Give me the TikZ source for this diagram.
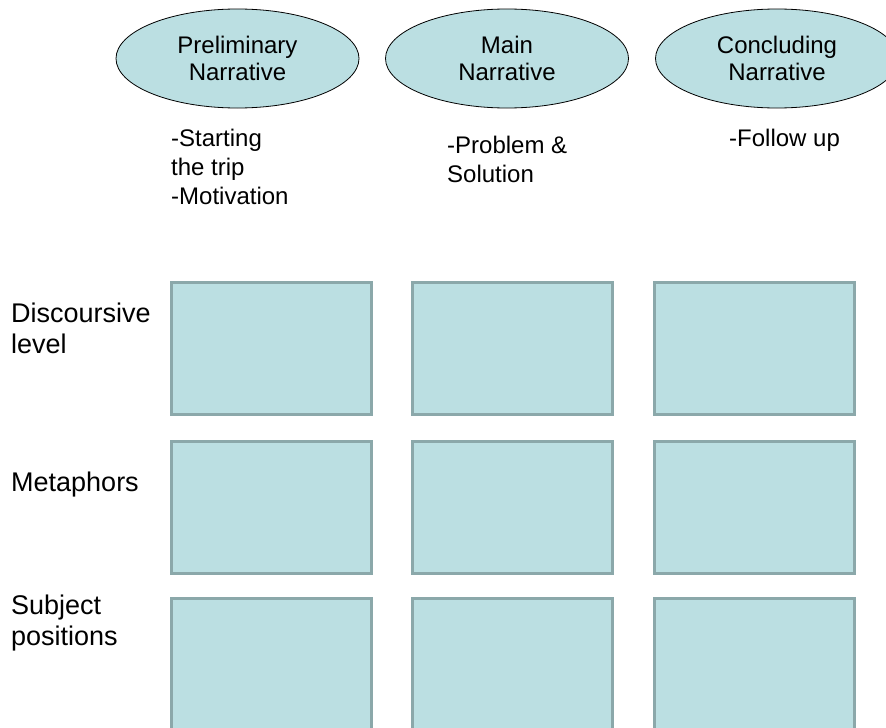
\documentclass[tikz,border=0pt]{standalone}
\usepackage{fontspec}
\setmainfont{Liberation Sans}
\usetikzlibrary{shapes.geometric}
\definecolor{boxfill}{RGB}{187,223,226}
\definecolor{boxline}{RGB}{139,168,170}
\tikzstyle{phase}=[ellipse, draw=black, line width=0.8pt, fill=boxfill, minimum width=243, minimum height=99, inner sep=0pt, align=center, font=\fontsize{24}{27}\selectfont]
\tikzstyle{note}=[anchor=north west, inner sep=0pt, align=left, font=\fontsize{24}{29}\selectfont]
\tikzstyle{level}=[anchor=north west, inner sep=0pt, align=left, font=\fontsize{27}{31}\selectfont]
\tikzstyle{cell}=[draw=boxline, line width=3pt, fill=boxfill]

\begin{document}
\begin{tikzpicture}[x=1pt, y=-1pt]
    \useasboundingbox (0,0) rectangle (886,728);
    \clip (0,0) rectangle (886,728);
% Narratives
    \node[phase] (prelim) at (237.5,58.5) {Preliminary\\Narrative};
    \node[phase] (main) at (507,58.5) {Main\\Narrative};
    \node[phase] (concl) at (777,58.5) {Concluding\\Narrative};
% Notes under the narratives
    \node[note] (prelimnote) at (171,129) {-Starting\\the trip\\-Motivation};
    \node[note] (mainnote) at (447,136) {-Problem \&\\Solution};
    \node[note] (conclnote) at (729,129) {-Follow up};
% Levels
    \node[level] (disc) at (11,303) {Discoursive\\level};
    \node[level] (meta) at (11,472) {Metaphors};
    \node[level] (subj) at (11,595) {Subject\\positions};
% Cells
    \draw[cell] (171,282) rectangle (371,414);
    \draw[cell] (412,282) rectangle (612,414);
    \draw[cell] (654,282) rectangle (854,414);
    \draw[cell] (171,441) rectangle (371,573);
    \draw[cell] (412,441) rectangle (612,573);
    \draw[cell] (654,441) rectangle (854,573);
    \draw[cell] (171,598) rectangle (371,740);
    \draw[cell] (412,598) rectangle (612,740);
    \draw[cell] (654,598) rectangle (854,740);
\end{tikzpicture}
\end{document}
